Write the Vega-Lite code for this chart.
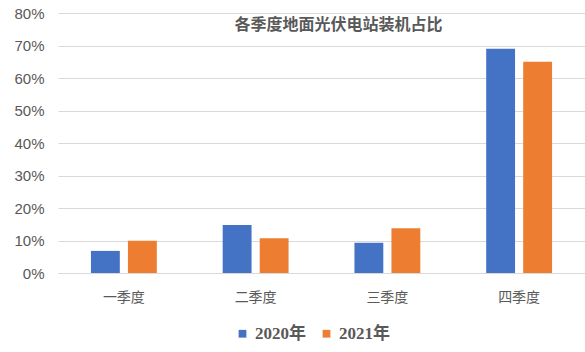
{
  "$schema": "https://vega.github.io/schema/vega-lite/v6.json",
  "width": 527,
  "height": 260,
  "autosize": {"type": "none"},
  "padding": {"left": 58, "top": 13, "right": 0, "bottom": 79},
  "background": "white",
  "title": {
    "text": "各季度地面光伏电站装机占比",
    "font": "Noto Sans CJK SC",
    "fontSize": 16,
    "fontWeight": "bold",
    "color": "#595959",
    "anchor": "middle",
    "dx": 17,
    "offset": -27
  },
  "data": {
    "values": [
      {"quarter": "一季度", "year": "2020年", "share": 0.068},
      {"quarter": "一季度", "year": "2021年", "share": 0.099},
      {"quarter": "二季度", "year": "2020年", "share": 0.148},
      {"quarter": "二季度", "year": "2021年", "share": 0.107},
      {"quarter": "三季度", "year": "2020年", "share": 0.093},
      {"quarter": "三季度", "year": "2021年", "share": 0.138},
      {"quarter": "四季度", "year": "2020年", "share": 0.69},
      {"quarter": "四季度", "year": "2021年", "share": 0.65}
    ]
  },
  "mark": {"type": "bar"},
  "encoding": {
    "x": {
      "field": "quarter",
      "type": "nominal",
      "sort": ["一季度", "二季度", "三季度", "四季度"],
      "scale": {"paddingInner": 0.5, "paddingOuter": 0.25},
      "axis": {
        "title": null,
        "labelAngle": 0,
        "labelFont": "Noto Sans CJK SC",
        "labelFontSize": 14,
        "labelColor": "#595959",
        "labelPadding": 17,
        "ticks": false,
        "domainColor": "#d9d9d9"
      }
    },
    "xOffset": {
      "field": "year",
      "type": "nominal",
      "scale": {"paddingInner": 0.22, "paddingOuter": 0}
    },
    "y": {
      "field": "share",
      "type": "quantitative",
      "scale": {"domain": [0, 0.8], "nice": false},
      "axis": {
        "title": null,
        "format": ".0%",
        "values": [0, 0.1, 0.2, 0.3, 0.4, 0.5, 0.6, 0.7, 0.8],
        "labelFont": "Liberation Sans",
        "labelFontSize": 15,
        "labelColor": "#595959",
        "labelPadding": 14,
        "ticks": false,
        "domain": false,
        "gridColor": "#d9d9d9",
        "gridWidth": 1
      }
    },
    "color": {
      "field": "year",
      "type": "nominal",
      "scale": {"domain": ["2020年", "2021年"], "range": ["#4472C4", "#ED7D31"]},
      "legend": {
        "title": null,
        "orient": "none",
        "legendX": 176,
        "legendY": 312,
        "direction": "horizontal",
        "symbolType": "square",
        "symbolSize": 60,
        "symbolStrokeWidth": 0,
        "labelFont": "Liberation Serif, Noto Sans CJK SC",
        "labelFontSize": 17,
        "labelFontWeight": "bold",
        "labelColor": "#595959",
        "columnPadding": 12,
        "labelOffset": 4
      }
    }
  },
  "config": {"view": {"stroke": null}}
}
